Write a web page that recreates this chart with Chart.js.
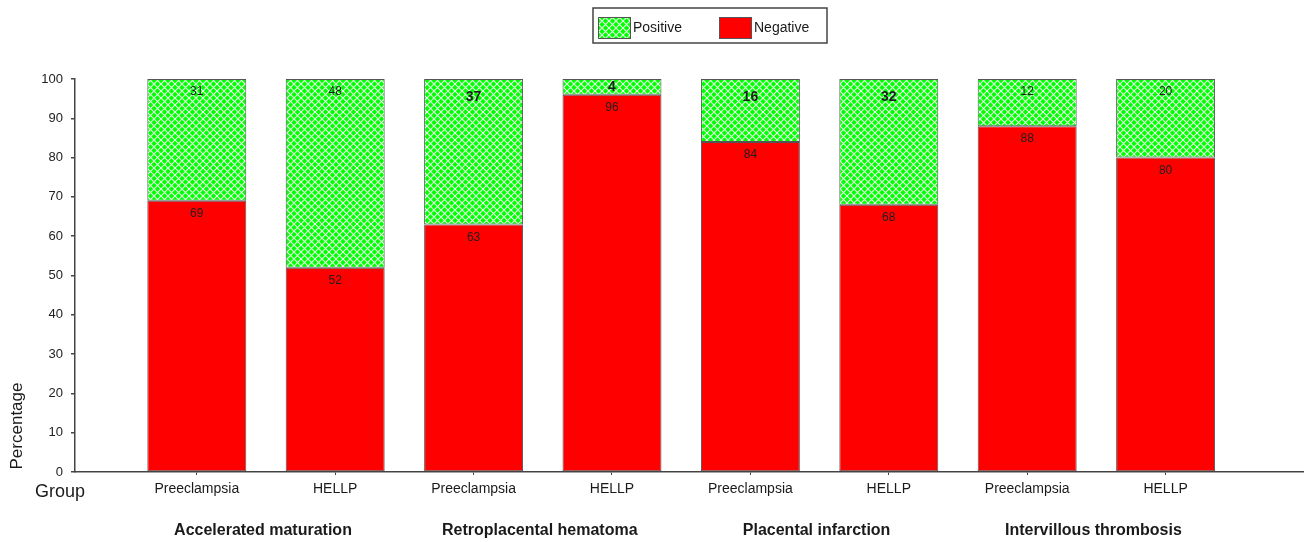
<!DOCTYPE html>
<html>
<head>
<meta charset="utf-8">
<script src="https://cdn.jsdelivr.net/npm/chart.js@4.4.1/dist/chart.umd.min.js"></script>
<style>
  html, body { margin: 0; padding: 0; background: #ffffff; }
  #wrap { width: 1304px; height: 542px; position: relative; }
</style>
</head>
<body>
<div id="wrap"><canvas id="c" width="1304" height="542"></canvas></div>
<script>
// Lesion groups (each holds a Preeclampsia / HELLP pair of bars)
const groupNames = ['Accelerated maturation', 'Retroplacental hematoma', 'Placental infarction', 'Intervillous thrombosis'];
// Bar categories, left to right
const barLabels = ['Preeclampsia', 'HELLP', 'Preeclampsia', 'HELLP', 'Preeclampsia', 'HELLP', 'Preeclampsia', 'HELLP'];
// Percentages per bar
const positiveValues = [31, 48, 37, 4, 16, 32, 12, 20];
const negativeValues = [69, 52, 63, 96, 84, 68, 88, 80];
// Y axis ticks
const yTicks = [0, 10, 20, 30, 40, 50, 60, 70, 80, 90, 100];
const seriesNames = { positive: 'Positive', negative: 'Negative' };
const axisTitleX = 'Group';
const axisTitleY = 'Percentage';

const FONT = "'Liberation Sans', Arial, Helvetica, sans-serif";
Chart.defaults.font.family = FONT;

const canvas = document.getElementById('c');
const ctx = canvas.getContext('2d');

// Green fill with a white diagonal lattice
function makeLattice() {
  const s = 7;
  const tile = document.createElement('canvas');
  tile.width = s; tile.height = s;
  const g = tile.getContext('2d');
  g.fillStyle = '#00ff00';
  g.fillRect(0, 0, s, s);
  g.strokeStyle = 'rgba(255,255,255,0.9)';
  g.lineWidth = 1.1;
  g.beginPath();
  g.moveTo(-1, -1); g.lineTo(s + 1, s + 1);
  g.moveTo(-1, s + 1); g.lineTo(s + 1, -1);
  g.stroke();
  return ctx.createPattern(tile, 'repeat');
}
const lattice = makeLattice();
const RED = '#ff0000';
const EDGE = '#555555';

// Positive-label sizes: some values are printed larger and bold
const emphasized = [false, false, true, true, true, true, false, false];

const valueLabels = {
  id: 'valueLabels',
  afterDatasetsDraw(chart) {
    const c = chart.ctx;
    c.save();
    c.textAlign = 'center';
    c.textBaseline = 'middle';
    c.fillStyle = '#1e1e1e';
    chart.data.datasets.forEach((ds, d) => {
      const meta = chart.getDatasetMeta(d);
      meta.data.forEach((bar, i) => {
        const v = ds.data[i].y;
        const top = Math.min(bar.y, bar.base);
        const h = Math.abs(bar.base - bar.y);
        let off = 13;
        if (ds.label === seriesNames.positive && emphasized[i]) {
          c.font = 'bold 14px ' + FONT;
          off = 18;
        } else {
          c.font = '12px ' + FONT;
        }
        off = Math.min(off, h / 2);
        c.fillText(String(v), bar.x, top + off);
      });
    });
    c.restore();
  }
};

const extras = {
  id: 'extras',
  afterDraw(chart) {
    const c = chart.ctx;
    const xs = chart.scales.x;
    c.save();
    c.fillStyle = '#1a1a1a';
    // Group names under each pair of bars
    c.font = 'bold 16px ' + FONT;
    c.textAlign = 'center';
    c.textBaseline = 'middle';
    groupNames.forEach((name, g) => {
      c.fillText(name, xs.getPixelForValue(2 * g + 0.5) - 3, 531);
    });
    // X axis title on the tick-label row
    c.font = '18px ' + FONT;
    c.textAlign = 'left';
    c.fillText(axisTitleX, 35, 492);
    // Y axis title, rotated, near the bottom
    c.save();
    c.translate(17, 426);
    c.rotate(-Math.PI / 2);
    c.textAlign = 'center';
    c.font = '17px ' + FONT;
    c.fillText(axisTitleY, 0, 0);
    c.restore();

    // Legend in a framed box
    const bx = 593, by = 8, bw = 234, bh = 35;
    c.lineWidth = 1.5;
    c.strokeStyle = '#444';
    c.strokeRect(bx, by, bw, bh);
    const order = [1, 0];
    const swX = [598, 719];
    c.font = '14px ' + FONT;
    c.textAlign = 'left';
    c.textBaseline = 'middle';
    order.forEach((d, k) => {
      const ds = chart.data.datasets[d];
      c.fillStyle = ds.backgroundColor;
      c.fillRect(swX[k], 17, 33, 22);
      c.lineWidth = 1;
      c.strokeStyle = EDGE;
      c.strokeRect(swX[k] + 0.5, 17.5, 32, 21);
      c.fillStyle = '#1a1a1a';
      c.fillText(ds.label, swX[k] + 35, 28);
    });
    c.restore();
  }
};

const toPoints = (vals) => vals.map((v, i) => ({ x: i, y: v }));

new Chart(ctx, {
  type: 'bar',
  data: {
    datasets: [
      {
        label: seriesNames.negative,
        data: toPoints(negativeValues),
        backgroundColor: RED,
        borderColor: EDGE,
        borderWidth: 1,
        borderSkipped: false,
        barPercentage: 0.715,
        categoryPercentage: 1
      },
      {
        label: seriesNames.positive,
        data: toPoints(positiveValues),
        backgroundColor: lattice,
        borderColor: EDGE,
        borderWidth: 1,
        borderSkipped: false,
        barPercentage: 0.715,
        categoryPercentage: 1
      }
    ]
  },
  options: {
    responsive: false,
    animation: false,
    devicePixelRatio: 1,
    layout: { padding: { top: 79, right: 0, bottom: 0, left: 0 } },
    plugins: {
      legend: { display: false },
      tooltip: { enabled: false }
    },
    scales: {
      x: {
        type: 'linear',
        stacked: true,
        offset: false,
        min: -0.88,
        max: 8.0,
        afterBuildTicks(scale) {
          scale.ticks = barLabels.map((_, i) => ({ value: i }));
        },
        afterFit(scale) { scale.height = 70; },
        ticks: {
          autoSkip: false,
          maxRotation: 0,
          padding: 6,
          color: '#1a1a1a',
          font: { size: 14 },
          callback: (v) => barLabels[Math.round(v)] ?? ''
        },
        grid: { offset: false, drawOnChartArea: false, drawTicks: true, tickLength: 3, color: '#444' },
        border: { color: '#444', width: 1.5 }
      },
      y: {
        stacked: true,
        min: 0,
        max: 100,
        afterBuildTicks(scale) {
          scale.ticks = yTicks.map(v => ({ value: v }));
        },
        afterFit(scale) { scale.width = 75; },
        ticks: {
          padding: 8,
          color: '#222',
          font: { size: 13 }
        },
        grid: { drawOnChartArea: false, drawTicks: true, tickLength: 4, color: '#444', lineWidth: 1.5 },
        border: { color: '#444', width: 1.5 }
      }
    }
  },
  plugins: [valueLabels, extras]
});
</script>
</body>
</html>
